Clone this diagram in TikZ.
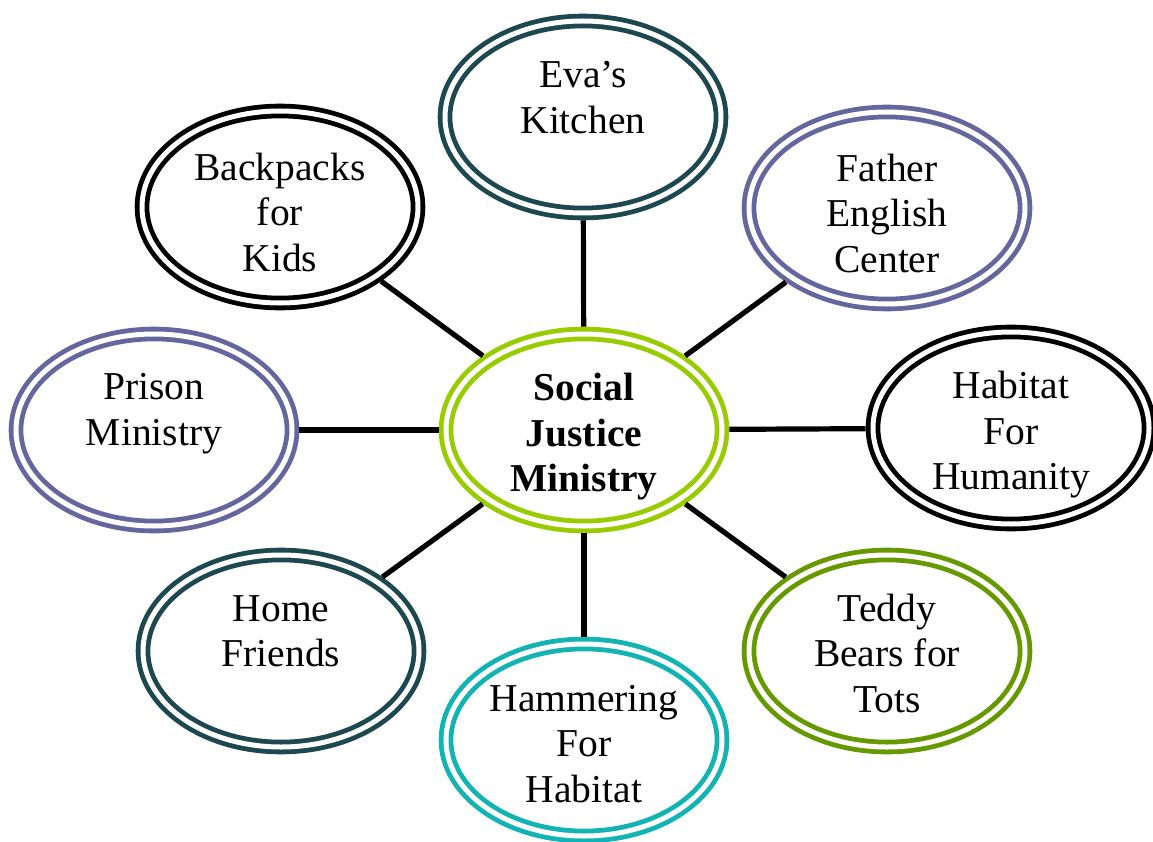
\documentclass[tikz,border=0pt]{standalone}
\usepackage{fontspec}
\setmainfont{Liberation Serif}
\usetikzlibrary{shapes.geometric}
\definecolor{limec}{RGB}{153,204,0}
\definecolor{darkteal}{RGB}{29,72,79}
\definecolor{slateblue}{RGB}{102,102,158}
\definecolor{tealc}{RGB}{17,180,178}
\definecolor{olivec}{RGB}{102,153,0}
\begin{document}
\begin{tikzpicture}[x=1pt,y=-1pt,
  bub/.style={ellipse, draw=#1, line width=4.8pt, double=white, double distance=5pt,
    minimum width=276pt, minimum height=192pt, inner sep=0pt, outer sep=7.3pt},
  lbl/.style={align=center, inner sep=0pt, font=\fontsize{39.5}{45.5}\selectfont},
  link/.style={line width=5.2pt, draw=black}]
\useasboundingbox (0,0) rectangle (1153,842);
\node[bub=limec] (c) at (584,430) {};
\node[bub=darkteal] (eva) at (583,117) {};
\node[bub=slateblue] (fec) at (887,208) {};
\node[bub=black] (hfh) at (1011,428) {};
\node[bub=olivec] (tb) at (887,651) {};
\node[bub=tealc] (ham) at (584,740) {};
\node[bub=darkteal] (hf) at (281,651) {};
\node[bub=slateblue] (pm) at (154,430) {};
\node[bub=black] (bk) at (280,207) {};
\node[lbl, font=\fontsize{39.5}{45.5}\selectfont\bfseries] (ct) at ([yshift=-7pt]c.center) {Social\\Justice\\Ministry};
\node[lbl] (evat) at ([yshift=-3pt]eva.center) {Eva’s\\Kitchen\\~};
\node[lbl] (fect) at ([yshift=-5pt]fec.center) {Father\\English\\Center};
\node[lbl] (hfht) at ([yshift=-7pt]hfh.center) {Habitat\\For\\Humanity};
\node[lbl] (tbt) at ([yshift=-2pt]tb.center) {Teddy\\Bears for\\Tots};
\node[lbl] (hamt) at ([yshift=-4pt]ham.center) {Hammering\\For\\Habitat};
\node[lbl] (hft) at ([yshift=-3pt]hf.center) {Home\\Friends\\~};
\node[lbl] (pmt) at ([yshift=-2pt]pm.center) {Prison\\Ministry\\~};
\node[lbl] (bkt) at ([yshift=-5pt]bk.center) {Backpacks\\for\\Kids};
\foreach \n in {eva,fec,hfh,tb,ham,hf,pm,bk} \draw[link] (c) -- (\n);
\end{tikzpicture}
\end{document}
